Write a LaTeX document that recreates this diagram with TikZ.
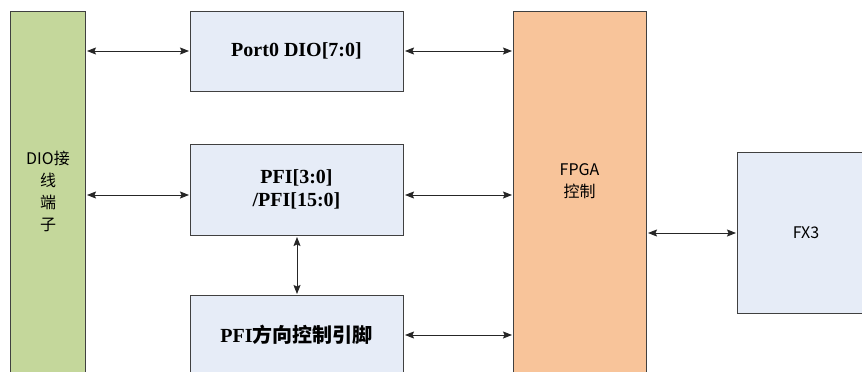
\documentclass[tikz,border=0pt]{standalone}
\usepackage{fontspec}
\setmainfont{Liberation Serif}
\newfontfamily\cjk{Noto Sans CJK SC}
\usetikzlibrary{arrows.meta}
\definecolor{gfill}{RGB}{196,215,155}
\definecolor{bfill}{RGB}{230,236,247}
\definecolor{ofill}{RGB}{248,196,154}
\definecolor{edge}{RGB}{64,64,64}
\tikzset{
  box/.style={draw=edge, line width=1pt, rectangle, inner sep=0pt, anchor=north west},
  gbox/.style={box, fill=gfill},
  bbox/.style={box, fill=bfill},
  obox/.style={box, fill=ofill},
  tip/.tip={Stealth[length=9pt,width=7pt,inset=1.5pt]},
  arr/.style={line width=0.9pt, draw=black!85, shorten <=1pt, shorten >=1pt, tip-tip},
  serlab/.style={font=\fontsize{20}{23}\selectfont\bfseries, align=center},
  sanlab/.style={font=\fontsize{16}{22}\selectfont\cjk, align=center}
}
\begin{document}
\begin{tikzpicture}[x=1pt,y=-1pt]
\useasboundingbox (0,0) rectangle (862,372);
\clip (0,0) rectangle (862,372);
\fill[white] (0,0) rectangle (862,372);
% boxes
\node[gbox, minimum width=75pt, minimum height=400pt] (dio) at (10,11) {};
\node[bbox, minimum width=213pt, minimum height=80pt] (port) at (190,11) {};
\node[bbox, minimum width=213pt, minimum height=91pt] (pfi) at (190,144) {};
\node[bbox, minimum width=213pt, minimum height=110pt] (dir) at (190,295) {};
\node[obox, minimum width=133pt, minimum height=400pt] (fpga) at (513,11) {};
\node[bbox, minimum width=140pt, minimum height=161pt] (fx3) at (737,152) {};
% texts
\node[sanlab] (diot) at (48,191) {DIO接\\线\\端\\子};
\node[serlab] (portt) at (296.5,51) {Port0 DIO[7:0]};
\node[serlab] (pfit) at (296.5,189) {PFI[3:0]\\/PFI[15:0]};
\node[serlab] (dirt) at (296.5,335) {PFI{\cjk\bfseries 方向控制引脚}};
\node[sanlab] (fpgat) at (579.5,181) {FPGA\\控制};
\node[sanlab] (fx3t) at (806,233) {FX3};
% coordinates for connector heights
\coordinate (y1) at (0,51);
\coordinate (y2) at (0,195);
\coordinate (y3) at (0,335);
\coordinate (y4) at (0,233);
% connectors
\draw[arr] (dio.east |- y1) -- (port.west |- y1);
\draw[arr] (dio.east |- y2) -- (pfi.west |- y2);
\draw[arr] (port.east |- y1) -- (fpga.west |- y1);
\draw[arr] (pfi.east |- y2) -- (fpga.west |- y2);
\draw[arr] (dir.east |- y3) -- (fpga.west |- y3);
\draw[arr] (pfi.south) -- (dir.north);
\draw[arr] (fpga.east |- y4) -- (fx3.west |- y4);
\end{tikzpicture}
\end{document}
